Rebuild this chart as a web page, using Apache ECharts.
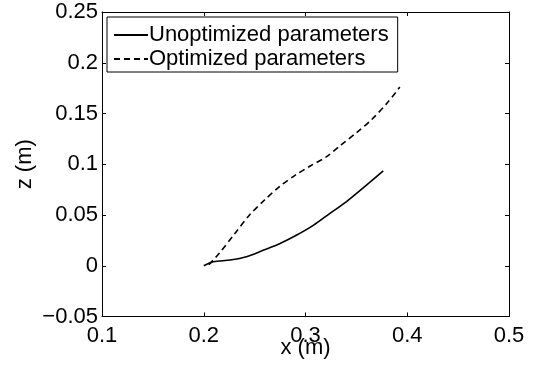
<!DOCTYPE html>
<html>
<head>
<meta charset="utf-8">
<script src="https://cdn.jsdelivr.net/npm/echarts@6/dist/echarts.min.js"></script>
<style>html,body{margin:0;padding:0;background:#fff;}#c{width:536px;height:372px;}</style>
</head>
<body>
<div id="c"></div>
<script>
var seriesNames = ['Unoptimized parameters', 'Optimized parameters'];
var unoptX = [0.200, 0.2095, 0.226, 0.242, 0.259, 0.275, 0.291, 0.308, 0.324, 0.340, 0.357, 0.3764];
var unoptZ = [0.000, 0.0039, 0.0056, 0.0089, 0.0155, 0.022, 0.030, 0.040, 0.0516, 0.063, 0.077, 0.0935];
var optX = [0.205, 0.215, 0.230, 0.245, 0.260, 0.275, 0.290, 0.305, 0.320, 0.335, 0.350, 0.365, 0.380, 0.3927];
var optZ = [0.001, 0.012, 0.031, 0.050, 0.065, 0.0785, 0.0893, 0.0985, 0.107, 0.119, 0.131, 0.144, 0.160, 0.176];
var xTicks = [0.1, 0.2, 0.3, 0.4, 0.5];
var yTicks = [-0.05, 0, 0.05, 0.1, 0.15, 0.2, 0.25];

function pairs(xs, ys) { return xs.map(function (x, i) { return [x, ys[i]]; }); }
function fmt(v) { var s = String(+v.toFixed(2)); return s.replace('-', '\u2212'); }

var FONT = 'Liberation Sans';
var axisLine = { show: true, onZero: false, lineStyle: { color: '#000', width: 1 } };
var tick = { show: true, inside: true, length: 4, lineStyle: { color: '#000', width: 1 } };

var chart = echarts.init(document.getElementById('c'), null, { renderer: 'canvas' });
chart.setOption({
  animation: false,
  backgroundColor: '#fff',
  grid: { left: 102, right: 27, top: 12, bottom: 55.5, containLabel: false, outerBoundsMode: 'none' },
  legend: {
    orient: 'vertical', left: 107, top: 17,
    backgroundColor: '#fff', borderColor: '#000', borderWidth: 1,
    padding: [7, 9, 2, 6], itemGap: 2, itemWidth: 34, itemHeight: 14,
    itemStyle: { opacity: 0 },
    textStyle: { fontFamily: FONT, fontSize: 22, color: '#000', padding: [0, 0, 0, -4] },
    data: seriesNames
  },
  xAxis: [{
    type: 'value', min: xTicks[0], max: xTicks[xTicks.length - 1], interval: 0.1,
    name: 'x (m)', nameLocation: 'middle', nameGap: 20, nameMoveOverlap: false,
    nameTextStyle: { fontFamily: FONT, fontSize: 22, color: '#000' },
    axisLine: axisLine, axisTick: tick, splitLine: { show: false },
    axisLabel: { fontFamily: FONT, fontSize: 22, color: '#000', margin: 8, formatter: fmt }
  }, {
    type: 'value', position: 'top', min: xTicks[0], max: xTicks[xTicks.length - 1], interval: 0.1,
    axisLine: axisLine, axisTick: tick, splitLine: { show: false }, axisLabel: { show: false }
  }],
  yAxis: [{
    type: 'value', min: yTicks[0], max: yTicks[yTicks.length - 1], interval: 0.05,
    name: 'z (m)', nameLocation: 'middle', nameGap: 66, nameMoveOverlap: false,
    nameTextStyle: { fontFamily: FONT, fontSize: 22, color: '#000' },
    axisLine: axisLine, axisTick: tick, splitLine: { show: false },
    axisLabel: { fontFamily: FONT, fontSize: 22, color: '#000', margin: 4, formatter: fmt }
  }, {
    type: 'value', position: 'right', min: yTicks[0], max: yTicks[yTicks.length - 1], interval: 0.05,
    axisLine: axisLine, axisTick: tick, splitLine: { show: false }, axisLabel: { show: false }
  }],
  series: [{
    name: seriesNames[0], type: 'line', xAxisIndex: 0, yAxisIndex: 0,
    data: pairs(unoptX, unoptZ), smooth: 0.3, symbol: 'none',
    lineStyle: { color: '#000', width: 1.6, type: 'solid' }, itemStyle: { color: '#000' }
  }, {
    name: seriesNames[1], type: 'line', xAxisIndex: 0, yAxisIndex: 0,
    data: pairs(optX, optZ), smooth: 0.3, symbol: 'none',
    lineStyle: { color: '#000', width: 1.6, type: [6, 4] }, itemStyle: { color: '#000' }
  }]
});
</script>
</body>
</html>
